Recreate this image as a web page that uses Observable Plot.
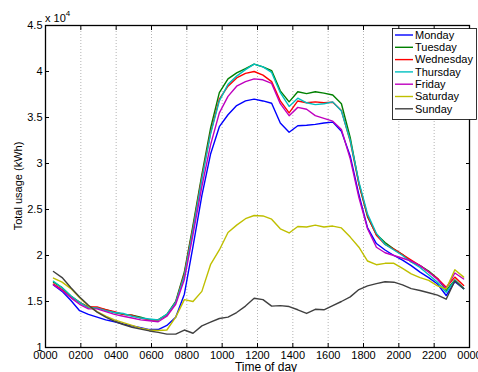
<!DOCTYPE html>
<html><head><meta charset="utf-8">
<script src="https://cdn.jsdelivr.net/npm/d3@7"></script>
<script src="https://cdn.jsdelivr.net/npm/@observablehq/plot@0.6"></script>
<style>body{margin:0;background:#fff} svg{display:block}</style>
</head><body><div id="chart"></div>
<script>
// sample times (hours after midnight)
const times = [0.45,0.94,1.44,1.93,2.43,2.92,3.41,3.91,4.40,4.90,5.39,5.88,6.38,6.87,7.37,7.86,
  8.35,8.85,9.34,9.84,10.33,10.82,11.32,11.81,12.31,12.80,13.29,13.79,14.28,14.78,15.27,15.76,
  16.26,16.75,17.25,17.74,18.23,18.73,19.22,19.72,20.21,20.70,21.20,21.69,22.19,22.68,23.17,23.67];
const days = ["Monday","Tuesday","Wednesday","Thursday","Friday","Saturday","Sunday"];
const colors = ["#0000ff","#008000","#ff0000","#00bfbf","#bf00bf","#bfbf00","#404040"];

const monday = [16800,16100,15100,14000,13600,13300,13000,12800,12550,12350,12150,11950,11950,12400,13300,15800,
  21000,26500,31000,34000,35300,36300,36800,37000,36800,36550,34400,33400,34100,34150,34250,34400,
  34500,33500,30800,26600,23000,21300,20600,20000,19500,18900,18200,17600,16900,15650,17150,16400];
const tuesday = [17100,16500,15600,14900,14400,14300,14100,13800,13600,13500,13300,13000,13000,13600,15000,18200,
  23300,28800,33800,37700,39200,39850,40300,40800,40500,40100,37900,36700,37800,37600,37800,37650,
  37450,36500,32800,27800,24200,22300,21400,20700,20100,19300,18900,18300,17500,16200,17350,16400];
const wednesday = [16900,16300,15500,14900,14400,14400,14100,13900,13600,13500,13200,13000,13000,13500,14900,18000,
  23000,28500,33300,37000,38400,39300,39800,40000,39600,38900,36800,35500,36800,36600,36700,36600,
  36650,35750,32400,27800,24300,22200,21200,20700,20100,19500,18900,18200,17500,16550,17650,16750];
const thursday = [17200,16500,15600,14900,14300,14300,14000,13800,13700,13400,13200,13100,13000,13600,14900,17800,
  22800,28300,33200,36800,38600,39500,40200,40800,40500,39900,37700,36200,37100,36600,36400,36500,
  36700,35700,32500,28000,24500,22400,21200,20600,20000,19300,18700,17900,17100,16000,17300,16400];
const friday = [16800,16200,15400,14700,14200,14200,13900,13600,13400,13200,13000,12900,12800,13400,14700,17400,
  22300,27500,32000,35500,37300,38400,38900,39200,39100,38700,36500,35200,36100,35900,35200,34900,
  34600,33700,30500,26300,22900,20900,20300,20000,19700,19400,18900,18200,17400,16400,18100,17450];
const saturday = [17550,17100,16400,15400,14500,13900,13400,13000,12700,12400,12100,11900,11850,11900,13300,15200,
  15000,16100,19000,20600,22500,23300,24000,24350,24300,23950,22900,22450,23150,23100,23300,23100,
  23200,23000,22000,20900,19400,19000,19150,19150,18600,18000,17600,17300,16700,16350,18450,17650];
const sunday = [18260,17600,16500,15500,14600,13850,13300,12850,12500,12200,12000,11800,11650,11450,11450,11900,
  11550,12350,12750,13150,13300,13800,14500,15350,15200,14500,14550,14450,14100,13700,14150,14100,
  14550,15000,15500,16300,16700,16950,17150,17100,16800,16400,16200,15950,15700,15250,17250,16400];

const xTickHours = [0,2,4,6,8,10,12,14,16,18,20,22,24];
const xTickLabels = ["0000","0200","0400","0600","0800","1000","1200","1400","1600","1800","2000","2200","0000"];
const yTicks = [10000,15000,20000,25000,30000,35000,40000,45000];
const yTickLabels = ["1","1.5","2","2.5","3","3.5","4","4.5"];

const series = [monday,tuesday,wednesday,thursday,friday,saturday,sunday];
const data = days.flatMap((d,k) => series[k].map((v,i) => ({day:d, t:times[i], v})));
const xLab = new Map(xTickHours.map((h,i)=>[h,xTickLabels[i]]));
const yLab = new Map(yTicks.map((h,i)=>[h,yTickLabels[i]]));

const font = "'Liberation Sans', Arial, Helvetica, sans-serif";
const chart = Plot.plot({
  width:478, height:372, marginLeft:45, marginRight:9, marginTop:25, marginBottom:25,
  style:{fontFamily:font, fontSize:"11px", background:"#fff", color:"#000", overflow:"visible"},
  x:{domain:[0,24]}, y:{domain:[10000,45000]},
  color:{domain:days, range:colors},
  marks:[
    Plot.gridX(xTickHours.slice(1,-1), {stroke:"#b4b4b4", strokeOpacity:1, strokeDasharray:"1,2"}),
    Plot.lineY(data, {x:"t", y:"v", z:"day", stroke:"day", strokeWidth:1.4}),
    Plot.axisX(xTickHours, {anchor:"bottom", tickSize:-4, tickFormat:()=>"", label:null}),
    Plot.axisX(xTickHours, {anchor:"top", tickSize:-4, tickFormat:()=>"", label:null}),
    Plot.axisX(xTickHours, {anchor:"bottom", tickSize:0, tickPadding:4, tickFormat:d=>xLab.get(d), label:null}),
    Plot.axisY(yTicks, {anchor:"left", tickSize:-4, tickFormat:()=>"", label:null}),
    Plot.axisY(yTicks, {anchor:"right", tickSize:-4, tickFormat:()=>"", label:null}),
    Plot.axisY(yTicks, {anchor:"left", tickSize:0, tickPadding:3, tickFormat:d=>yLab.get(d), label:null}),
    Plot.frame({stroke:"#000", strokeWidth:1.3})
  ]
});
document.getElementById("chart").appendChild(chart);

const svg = d3.select(chart);
// axis titles
svg.append("text").attr("x",266).attr("y",370.5).attr("text-anchor","middle")
  .attr("font-size","12px").attr("font-family",font).text("Time of day");
svg.append("text").attr("transform","translate(22,186) rotate(-90)").attr("text-anchor","middle")
  .attr("font-size","11px").attr("font-family",font).text("Total usage (kWh)");
const exp = svg.append("text").attr("x",45).attr("y",22).attr("text-anchor","start")
  .attr("font-size","11px").attr("font-family",font);
exp.append("tspan").text("x 10");
exp.append("tspan").attr("dy",-6).attr("font-size","8px").text("4");

// legend
const lg = svg.append("g").attr("font-family",font).attr("font-size","11px").attr("text-anchor","start");
lg.append("rect").attr("x",392.5).attr("y",28.5).attr("width",84).attr("height",91)
  .attr("fill","#fff").attr("stroke","#000").attr("stroke-width",0.8);
days.forEach((d,i) => {
  const y = 35 + i*12.3;
  lg.append("line").attr("x1",395).attr("x2",413).attr("y1",y).attr("y2",y)
    .attr("stroke",colors[i]).attr("stroke-width",1.4);
  lg.append("text").attr("x",415).attr("y",y).attr("dy","0.35em").text(d);
});
</script></body></html>
